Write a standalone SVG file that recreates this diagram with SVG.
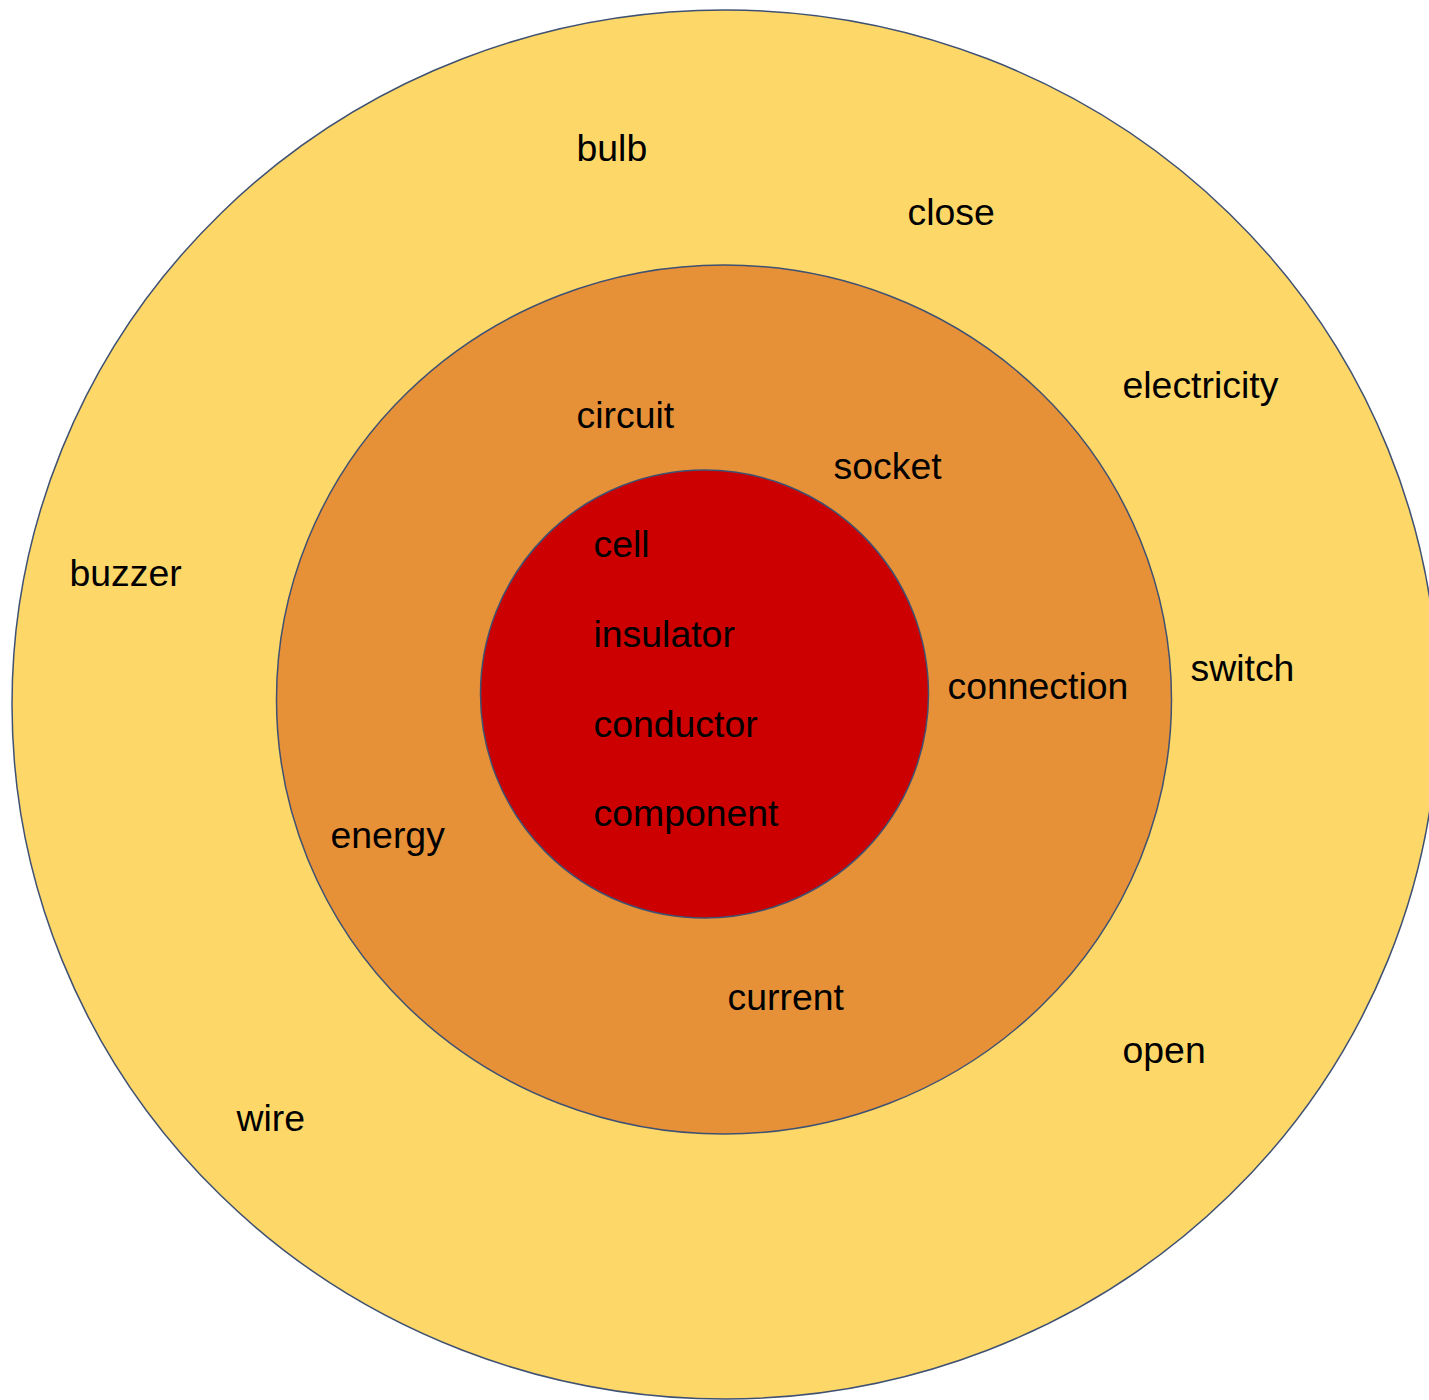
<svg xmlns="http://www.w3.org/2000/svg" width="1429" height="1400" viewBox="0 0 1429 1400">
  <style>
    .ring { stroke: #3f5173; stroke-width: 1.5; }
    .outer { fill: #fdd868; }
    .middle { fill: #e69138; }
    .inner { fill: #cc0000; }
    text { font-family: "Liberation Sans", Arial, sans-serif; font-size: 37.4px; fill: #000; }
  </style>
  <rect x="0" y="0" width="1429" height="1400" fill="#ffffff"/>
  <g id="ring-outer">
    <ellipse class="ring outer" cx="725" cy="704.5" rx="713" ry="694.5"/>
  </g>
  <g id="ring-middle">
    <ellipse class="ring middle" cx="724" cy="699.5" rx="447.5" ry="434.5"/>
  </g>
  <g id="ring-inner">
    <circle class="ring inner" cx="704.5" cy="694" r="224"/>
  </g>
  <g id="labels-outer">
    <text x="576.5" y="161">bulb</text>
    <text x="907.5" y="225">close</text>
    <text x="1122.5" y="398">electricity</text>
    <text x="69.5" y="586">buzzer</text>
    <text x="1190.5" y="681">switch</text>
    <text x="1122.5" y="1063">open</text>
    <text x="236.5" y="1131">wire</text>
  </g>
  <g id="labels-middle">
    <text x="576.5" y="428">circuit</text>
    <text x="833.5" y="479">socket</text>
    <text x="947.5" y="699">connection</text>
    <text x="330.5" y="848">energy</text>
    <text x="727.5" y="1010">current</text>
  </g>
  <g id="labels-inner">
    <text x="593.5" y="557">cell</text>
    <text x="593.5" y="647">insulator</text>
    <text x="593.5" y="737">conductor</text>
    <text x="593.5" y="826">component</text>
  </g>
</svg>
